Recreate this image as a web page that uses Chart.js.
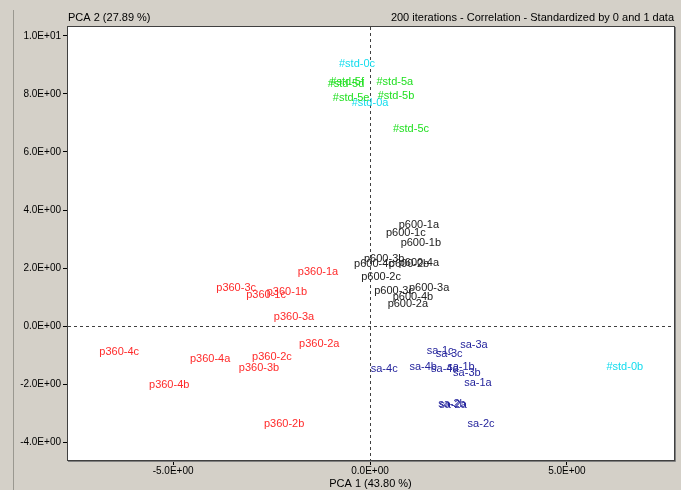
<!DOCTYPE html>
<html>
<head>
<meta charset="utf-8">
<script src="https://cdn.jsdelivr.net/npm/chart.js@4"></script>
<style>
  html, body { margin: 0; padding: 0; background: #d4d0c8; }
  #wrap { width: 681px; height: 490px; position: relative; }
</style>
</head>
<body>
<div id="wrap"><canvas id="pcaChart" width="681" height="490"></canvas></div>
<script>
// --- DATOS ---
const stdLabels = ['#std-0c', '#std-0a', '#std-0b'];
const stdX = [-0.33, 0.00, 6.47];
const stdY = [9.03, 7.69, -1.41];

const std5Labels = ['#std-5f', '#std-5d', '#std-5a', '#std-5b', '#std-5e', '#std-5c'];
const std5X = [-0.58, -0.61, 0.63, 0.66, -0.48, 1.04];
const std5Y = [8.41, 8.34, 8.41, 7.93, 7.86, 6.79];

const p600Labels = ['p600-1a', 'p600-1c', 'p600-1b', 'p600-3b', 'p600-4c', 'p600-2b', 'p600-4a', 'p600-2c', 'p600-3c', 'p600-3a', 'p600-4b', 'p600-2a'];
const p600X = [1.24, 0.91, 1.29, 0.36, 0.10, 0.99, 1.24, 0.28, 0.61, 1.50, 1.09, 0.96];
const p600Y = [3.48, 3.21, 2.86, 2.31, 2.14, 2.14, 2.17, 1.69, 1.21, 1.31, 1.00, 0.76];

const p360Labels = ['p360-1a', 'p360-3c', 'p360-1c', 'p360-1b', 'p360-3a', 'p360-2a', 'p360-4c', 'p360-4a', 'p360-2c', 'p360-3b', 'p360-4b', 'p360-2b'];
const p360X = [-1.32, -3.40, -2.64, -2.11, -1.93, -1.29, -6.37, -4.06, -2.49, -2.82, -5.10, -2.18];
const p360Y = [1.86, 1.31, 1.07, 1.17, 0.31, -0.62, -0.90, -1.14, -1.07, -1.45, -2.03, -3.38];

const saLabels = ['sa-3a', 'sa-1c', 'sa-3c', 'sa-4c', 'sa-4b', 'sa-4a', 'sa-1b', 'sa-3b', 'sa-1a', 'sa-2a', 'sa-2b', 'sa-2c'];
const saX = [2.64, 1.78, 2.01, 0.36, 1.35, 1.90, 2.31, 2.46, 2.74, 2.11, 2.08, 2.82];
const saY = [-0.66, -0.86, -0.97, -1.48, -1.41, -1.48, -1.41, -1.62, -1.97, -2.72, -2.69, -3.38];

const xTitle = 'PCA 1 (43.80 %)';
const yTitle = 'PCA 2 (27.89 %)';
const infoText = '200 iterations - Correlation - Standardized by 0 and 1 data';

const FONT = '"Liberation Sans", Arial, sans-serif';

// formato 1.0E+01
function fmtExp(v) {
    const parts = Number(v).toExponential(1).split('e');
    const sign = parts[1][0];
    const digits = parts[1].slice(1).padStart(2, '0');
    return parts[0] + 'E' + sign + digits;
}

function makeSet(labels, xs, ys, color) {
    return {
        data: xs.map((x, i) => ({ x: x, y: ys[i], label: labels[i] })),
        color: color,
        pointRadius: 0,
        pointHoverRadius: 0
    };
}

// --- PLUGIN: fondo, líneas punteadas, etiquetas y textos ---
const pcaPlugin = {
    id: 'pcaPlugin',
    beforeDraw(chart) {
        const ctx = chart.ctx;
        const a = chart.chartArea;
        ctx.save();
        ctx.fillStyle = '#d4d0c8';
        ctx.fillRect(0, 0, chart.width, chart.height);
        // marco de la ventana
        ctx.strokeStyle = '#9a9890';
        ctx.lineWidth = 1;
        ctx.beginPath();
        ctx.moveTo(13.5, 10);
        ctx.lineTo(13.5, chart.height);
        ctx.stroke();
        ctx.fillStyle = '#ffffff';
        ctx.fillRect(a.left, a.top, a.right - a.left, a.bottom - a.top);
        ctx.restore();
    },
    afterDatasetsDraw(chart) {
        const ctx = chart.ctx;
        const a = chart.chartArea;
        const xs = chart.scales.x, ys = chart.scales.y;
        ctx.save();
        // ejes en cero (punteados)
        ctx.strokeStyle = '#404040';
        ctx.lineWidth = 1;
        ctx.setLineDash([3, 3]);
        const x0 = Math.round(xs.getPixelForValue(0)) + 0.5;
        const y0 = Math.round(ys.getPixelForValue(0)) + 0.5;
        ctx.beginPath();
        ctx.moveTo(x0, a.top);
        ctx.lineTo(x0, a.bottom);
        ctx.moveTo(a.left, y0);
        ctx.lineTo(a.right, y0);
        ctx.stroke();
        ctx.setLineDash([]);

        // etiquetas de los puntos
        ctx.font = '11px ' + FONT;
        ctx.textAlign = 'center';
        ctx.textBaseline = 'middle';
        chart.data.datasets.forEach((ds, di) => {
            const meta = chart.getDatasetMeta(di);
            ctx.fillStyle = ds.color;
            meta.data.forEach((pt, i) => {
                ctx.fillText(ds.data[i].label, pt.x, pt.y);
            });
        });

        // borde del área
        ctx.strokeStyle = '#404040';
        ctx.strokeRect(a.left - 0.5, a.top - 0.5, a.right - a.left + 1, a.bottom - a.top + 1);
        ctx.strokeStyle = '#808080';
        ctx.beginPath();
        ctx.moveTo(a.left, a.bottom + 1.5);
        ctx.lineTo(a.right + 1.5, a.bottom + 1.5);
        ctx.lineTo(a.right + 1.5, a.top);
        ctx.stroke();

        // títulos
        ctx.fillStyle = '#000000';
        ctx.font = '11px ' + FONT;
        ctx.textBaseline = 'alphabetic';
        ctx.textAlign = 'left';
        ctx.fillText(yTitle, a.left, 21);
        ctx.textAlign = 'right';
        ctx.fillText(infoText, a.right, 21);
        ctx.textAlign = 'center';
        ctx.fillText(xTitle, x0, 487);
        ctx.restore();
    }
};

const ctx = document.getElementById('pcaChart').getContext('2d');
new Chart(ctx, {
    type: 'scatter',
    data: {
        datasets: [
            makeSet(stdLabels, stdX, stdY, '#12dcee'),
            makeSet(std5Labels, std5X, std5Y, '#22e022'),
            makeSet(p600Labels, p600X, p600Y, '#202020'),
            makeSet(p360Labels, p360X, p360Y, '#ff2a2a'),
            makeSet(saLabels, saX, saY, '#24249c')
        ]
    },
    options: {
        responsive: false,
        animation: false,
        devicePixelRatio: 1,
        layout: { padding: { top: 27, right: 7, left: 0, bottom: 0 } },
        plugins: { legend: { display: false }, tooltip: { enabled: false } },
        scales: {
            x: {
                type: 'linear',
                min: -7.67,
                max: 7.72,
                afterFit(scale) { scale.height = 30; },
                grid: { drawOnChartArea: false, drawTicks: true, tickLength: 5, color: '#000000' },
                border: { display: false },
                ticks: {
                    stepSize: 5,
                    includeBounds: false,
                    padding: 0,
                    color: '#000000',
                    font: { family: FONT, size: 10 },
                    maxRotation: 0,
                    callback: v => fmtExp(v)
                }
            },
            y: {
                type: 'linear',
                min: -4.62,
                max: 10.31,
                afterFit(scale) { scale.width = 68; },
                grid: { drawOnChartArea: false, drawTicks: true, tickLength: 5, color: '#000000' },
                border: { display: false },
                ticks: {
                    stepSize: 2,
                    includeBounds: false,
                    padding: 2,
                    color: '#000000',
                    font: { family: FONT, size: 10 },
                    callback: v => fmtExp(v)
                }
            }
        }
    },
    plugins: [pcaPlugin]
});
</script>
</body>
</html>
